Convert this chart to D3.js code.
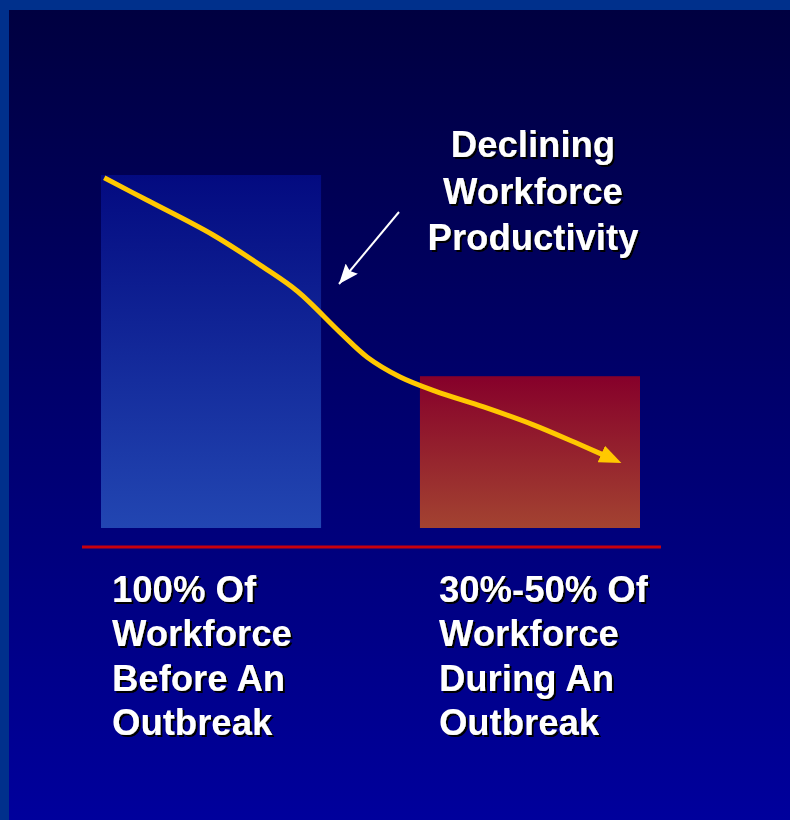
<!DOCTYPE html>
<html lang="en">
  <head>
    <meta charset="UTF-8" />
    <title>Workforce Productivity</title>
    <script src="https://d3js.org/d3.v7.min.js"></script>
    <style>
      body {
        margin: 0;
        background: #00308c;
      }
      svg {
        display: block;
      }
      .big {
        font-family: "Liberation Sans", Arial, sans-serif;
        font-weight: bold;
        font-size: 36.5px;
        fill: #ffffff;
        filter: url(#shadow);
      }
    </style>
  </head>
  <body>
    <svg id="chart" width="790" height="820"></svg>
    <script>
      // data
      let categories = ["Before", "During"];
      let workforce = [100, 43]; // % of workforce available
      let barLabels = [
        ["100% Of", "Workforce", "Before An", "Outbreak"],
        ["30%-50% Of", "Workforce", "During An", "Outbreak"],
      ];
      let calloutLines = ["Declining", "Workforce", "Productivity"];
      // productivity curve, x in % of chart span, y in % of workforce
      let curveX = [0.6, 8.5, 20.8, 30.1, 36.5, 44.3, 49.4, 55.5, 62, 71, 80.1, 88, 93.5];
      let curveY = [99.2, 92.9, 83.0, 73.9, 67, 55.5, 48.4, 42.8, 38.8, 34.3, 29.3, 24.2, 20.5];

      let width = 790;
      let height = 820;
      let svg = d3.select("#chart");
      let defs = svg.append("defs");

      function vGrad(id, top, bottom) {
        let g = defs
          .append("linearGradient")
          .attr("id", id)
          .attr("x1", 0)
          .attr("y1", 0)
          .attr("x2", 0)
          .attr("y2", 1);
        g.append("stop").attr("offset", "0%").attr("stop-color", top);
        g.append("stop").attr("offset", "100%").attr("stop-color", bottom);
      }
      vGrad("bg", "#000040", "#00009c");
      vGrad("blueBar", "#030a80", "#2246b2");
      vGrad("redBar", "#86002a", "#a34331");

      // drop shadow for the white text
      defs
        .append("filter")
        .attr("id", "shadow")
        .attr("x", "-5%")
        .attr("y", "-10%")
        .attr("width", "115%")
        .attr("height", "130%")
        .append("feDropShadow")
        .attr("dx", 2)
        .attr("dy", 2)
        .attr("stdDeviation", 0.3)
        .attr("flood-color", "#000000")
        .attr("flood-opacity", 1);

      // yellow arrowhead (path ends inside the head, tip sticks out)
      defs
        .append("marker")
        .attr("id", "yellowHead")
        .attr("markerUnits", "userSpaceOnUse")
        .attr("viewBox", "0 0 22 18")
        .attr("markerWidth", 22)
        .attr("markerHeight", 18)
        .attr("refX", 4)
        .attr("refY", 9)
        .attr("orient", "auto")
        .append("path")
        .attr("d", "M0,0 L22,9 L0,18 Z")
        .attr("fill", "#ffc800");

      defs
        .append("marker")
        .attr("id", "whiteHead")
        .attr("markerUnits", "userSpaceOnUse")
        .attr("viewBox", "0 0 20 16")
        .attr("markerWidth", 20)
        .attr("markerHeight", 16)
        .attr("refX", 20)
        .attr("refY", 8)
        .attr("orient", "auto")
        .append("path")
        .attr("d", "M0,0 L20,8 L0,16 L3,8 Z")
        .attr("fill", "#ffffff");

      // background panel with lighter frame on top and left
      svg
        .append("rect")
        .attr("x", 9)
        .attr("y", 10)
        .attr("width", width - 9)
        .attr("height", height - 10)
        .attr("fill", "url(#bg)");

      let x = d3.scaleBand().domain(categories).range([101, 640]).paddingInner(0.31).paddingOuter(0);
      let y = d3.scaleLinear().domain([0, 100]).range([528, 175]);
      let xc = d3.scaleLinear().domain([0, 100]).range([101, 640]);

      svg
        .append("g")
        .selectAll("rect")
        .data(categories)
        .join("rect")
        .attr("x", (d) => x(d))
        .attr("y", (d, i) => y(workforce[i]))
        .attr("width", x.bandwidth())
        .attr("height", (d, i) => y(0) - y(workforce[i]))
        .attr("fill", (d, i) => (i === 0 ? "url(#blueBar)" : "url(#redBar)"));

      // red baseline
      svg
        .append("line")
        .attr("x1", 82)
        .attr("x2", 661)
        .attr("y1", y(0) + 19)
        .attr("y2", y(0) + 19)
        .attr("stroke", "#c8000c")
        .attr("stroke-width", 3);

      // declining curve
      let line = d3
        .line()
        .x((d) => xc(d[0]))
        .y((d) => y(d[1]))
        .curve(d3.curveCatmullRom);
      svg
        .append("path")
        .datum(d3.zip(curveX, curveY))
        .attr("d", line)
        .attr("fill", "none")
        .attr("stroke", "#ffc800")
        .attr("stroke-width", 5)
        .attr("stroke-linecap", "butt")
        .attr("marker-end", "url(#yellowHead)");

      // white pointer
      svg
        .append("line")
        .attr("x1", 399)
        .attr("y1", 212)
        .attr("x2", 339)
        .attr("y2", 284)
        .attr("stroke", "#ffffff")
        .attr("stroke-width", 2)
        .attr("marker-end", "url(#whiteHead)");

      function addText(g, str, tx, ty, anchor) {
        g.append("text")
          .attr("class", "big")
          .attr("x", tx)
          .attr("y", ty)
          .attr("text-anchor", anchor)
          .text(str);
      }

      let callout = svg.append("g");
      calloutLines.forEach((t, i) => addText(callout, t, 533, 157 + i * 46.5, "middle"));

      let labels = svg.append("g");
      categories.forEach((c, i) => {
        let lx = x(c) + (i === 0 ? 11 : 19);
        barLabels[i].forEach((t, j) => addText(labels, t, lx, 602 + j * 44.3, "start"));
      });
    </script>
  </body>
</html>
